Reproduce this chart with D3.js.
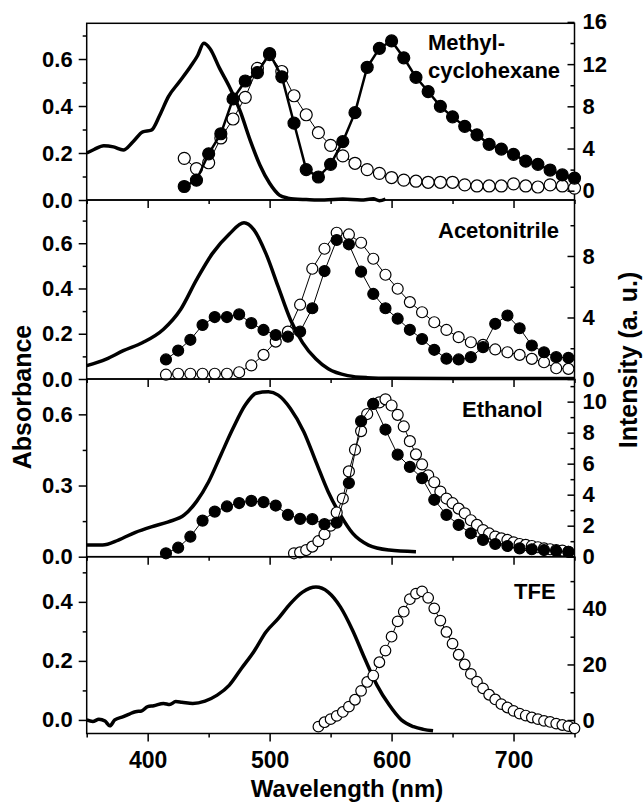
<!DOCTYPE html>
<html>
<head>
<meta charset="utf-8">
<script src="https://cdn.jsdelivr.net/npm/d3@7"></script>
<style>
    body{margin:0;background:#fff;}
    svg{display:block;font-family:"Liberation Sans",Arial,sans-serif;font-weight:bold;}
    .axis text{font-size:22px;font-weight:bold;fill:#000;font-family:"Liberation Sans",Arial,sans-serif;}
    .axis-x text{font-size:23px;}
    .axis line{stroke:#000;stroke-width:1.5;}
    .axis path{display:none;}
    .frame{fill:none;stroke:#000;stroke-width:1.5;}
    .label{font-size:22px;font-weight:bold;fill:#000;}
    .title{font-size:25px;font-weight:bold;fill:#000;}
</style>
</head>
<body>
<svg id="chart" width="643" height="803"></svg>
<script>
//--------DATA--------

//shared wavelength axis
const wlDomain = [350, 750];
const wlTicks = [400, 500, 600, 700];
const wlMinor = [350, 450, 550, 650, 750];

//methylcyclohexane
const mchAbsWl  = [350,356,364,372,380,388,396,403,410,417,426,435,441,446,451,459,467,476,484,492,500,508,515,520,530,545,560,575,585,590,595];
const mchAbsVal = [0.20,0.215,0.231,0.226,0.213,0.248,0.29,0.297,0.362,0.44,0.503,0.567,0.615,0.667,0.645,0.56,0.482,0.376,0.255,0.149,0.071,0.021,0.008,0.004,0.002,0.0,0.004,0.0,0.005,-0.003,0.004];
const mchEmWl   = [430,440,450,460,470,480,490,500,510,520,530,540,550,560,570,580,590,600,610,620,630,640,650,660,670,680,690,700,710,720,730,740,750];
const mchFilled = [0.4,1.0,3.5,5.4,8.7,10.4,11.2,13.0,10.8,6.4,2.0,1.3,2.5,4.65,7.4,11.7,13.5,14.2,12.6,10.75,9.4,8.0,7.0,6.1,5.3,4.4,3.95,3.45,2.8,2.5,1.96,1.5,1.2];
const mchOpen   = [3.07,2.1,2.65,5.0,6.8,8.85,11.6,12.9,11.3,9.0,7.2,5.5,4.3,3.3,2.6,2.0,1.65,1.25,1.0,0.9,0.8,0.8,0.8,0.55,0.45,0.45,0.45,0.65,0.45,0.35,0.55,0.45,0.25];
const mchAbsTicks = [0, 0.2, 0.4, 0.6];
const mchAbsMinor = [0.1, 0.3, 0.5, 0.7];
const mchEmTicks  = [0, 4, 8, 12, 16];
const mchEmMinor  = [2, 6, 10, 14];

//acetonitrile
const acnAbsWl  = [350,366,380,396,413,427,440,453,467,479,487,497,507,517,527,538,548,564,580,600,650,700,750];
const acnAbsVal = [0.059,0.088,0.125,0.161,0.22,0.307,0.438,0.554,0.641,0.69,0.66,0.554,0.408,0.263,0.161,0.088,0.045,0.015,0.006,0.003,0.002,0.002,0.002];
const acnEmWl   = [415,425,435,445,455,465,475,485,495,505,515,525,535,545,555,565,575,585,595,605,615,625,635,645,655,665,675,685,695,705,715,725,735,745];
const acnFilled = [1.27,1.85,2.55,3.51,4.03,4.03,4.2,3.63,3.19,2.86,2.75,3.08,4.6,7.02,9.04,8.76,6.98,5.53,4.6,3.92,3.2,2.6,1.9,1.32,1.27,1.42,2.07,3.59,4.13,3.3,2.18,1.74,1.42,1.38];
const acnOpen   = [0.28,0.34,0.34,0.34,0.34,0.34,0.44,0.88,1.57,2.43,3.08,4.83,7.17,8.47,9.51,9.4,8.86,7.82,6.78,5.87,5.0,4.34,3.69,3.19,2.72,2.39,2.22,1.92,1.74,1.57,1.31,1.09,0.7,0.66];
const acnAbsTicks = [0, 0.2, 0.4, 0.6];
const acnAbsMinor = [0.1, 0.3, 0.5, 0.7];
const acnEmTicks  = [0, 4, 8];
const acnEmMinor  = [2, 6, 10];

//ethanol
const etoAbsWl  = [350,363,376,390,403,417,430,440,450,460,470,480,489,499,507,517,528,538,548,558,568,581,598,620];
const etoAbsVal = [0.049,0.049,0.07,0.103,0.126,0.147,0.176,0.232,0.316,0.429,0.541,0.639,0.689,0.695,0.681,0.625,0.527,0.4,0.274,0.176,0.099,0.049,0.028,0.021];
const etoEmWl   = [415,425,435,445,455,465,475,485,495,505,515,525,535,545,555,565,575,585,595,605,615,625,635,645,655,665,675,685,695,705,715,725,735,745];
const etoFilled = [0.22,0.58,1.29,2.33,2.91,3.24,3.46,3.6,3.52,3.3,2.7,2.44,2.42,2.1,2.2,4.75,8.74,9.86,8.2,6.58,5.79,5.07,3.67,2.7,2.05,1.51,1.08,0.82,0.69,0.54,0.48,0.43,0.37,0.32];
const etoOpenWl = [520,525,530,535,540,545,550,555,560,565,570,575,580,585,590,595,600,605,610,615,620,625,630,635,640,645,650,655,660,665,670,675,680,685,690,695,700,705,710,715,720,725,730,735,740,745];
const etoOpen   = [0.22,0.28,0.43,0.65,1.0,1.45,2.0,2.85,3.75,5.5,6.9,8.1,9.2,9.85,9.95,10.15,9.75,9.15,8.4,7.45,6.6,5.95,5.25,4.8,4.2,3.75,3.45,3.1,2.8,2.35,2.05,1.72,1.5,1.3,1.18,1.08,0.93,0.82,0.76,0.69,0.61,0.54,0.48,0.43,0.39,0.32];
const etoAbsTicks = [0, 0.3, 0.6];
const etoAbsMinor = [0.15, 0.45];
const etoEmTicks  = [0, 2, 4, 6, 8, 10];
const etoEmMinor  = [1, 3, 5, 7, 9, 11];

//TFE
const tfeAbsWl  = [350,355,360,365,369,373,380,385,390,395,400,405,413,418,423,428,437,447,457,467,477,487,497,507,517,527,538,548,558,568,578,588,598,608,618,626,634];
const tfeAbsVal = [0.0,-0.005,0.002,-0.004,-0.02,0.0,0.011,0.02,0.028,0.03,0.045,0.048,0.056,0.052,0.062,0.06,0.056,0.064,0.084,0.118,0.175,0.231,0.298,0.343,0.394,0.433,0.45,0.433,0.383,0.304,0.208,0.118,0.051,0.0,-0.023,-0.032,-0.037];
const tfeOpenWl = [540,545,550,555,560,565,570,575,580,585,590,595,600,605,610,615,620,625,630,635,640,645,650,655,660,665,670,675,680,685,690,695,700,705,710,715,720,725,730,735,740,745,750];
const tfeOpen   = [-2.4,-0.8,0.3,1.5,2.9,4.8,7.3,10.5,13.7,16.0,20.8,25.0,30.0,35.5,39.0,43.5,45.5,46.3,44.0,40.2,35.8,31.7,27.5,23.5,20.0,16.6,13.8,11.4,9.1,7.4,5.7,4.5,3.3,2.3,1.6,0.9,0.3,-0.3,-0.7,-1.3,-1.8,-2.2,-3.0];
const tfeAbsTicks = [0, 0.2, 0.4];
const tfeAbsMinor = [0.1, 0.3, 0.5];
const tfeEmTicks  = [0, 20, 40];
const tfeEmMinor  = [10, 30, 50];

const zip = (xs, ys) => xs.map((x, i) => ({wl: x, v: ys[i]}));

//--------PANEL CLASS--------

class spectrumPanel{
    constructor(){
        this.radius = 5.5;
        this.emWidth = 1;
    }

    setSelection(selection){
        this.selection = selection;
        return this;
    }

    setBox(box){
        this.box = box; //{l, r, t, b}
        return this;
    }

    setAbs(domain, ticks, minor, data){
        this.absDomain = domain;
        this.absTicks = ticks;
        this.absMinor = minor;
        this.absData = data;
        return this;
    }

    setEm(domain, ticks, minor){
        this.emDomain = domain;
        this.emTicks = ticks;
        this.emMinor = minor;
        return this;
    }

    setSeries(open, filled){
        this.open = open;
        this.filled = filled;
        return this;
    }

    setStyle(radius, emWidth){
        this.radius = radius;
        this.emWidth = emWidth;
        return this;
    }

    setLabel(lines, x, y){
        this.labelLines = lines;
        this.labelX = x;
        this.labelY = y;
        return this;
    }

    setBottomLabels(show){
        this.bottomLabels = show;
        return this;
    }

    draw(){
        let b = this.box;
        this.scaleX = d3.scaleLinear().domain(wlDomain).range([b.l, b.r]);
        this.scaleA = d3.scaleLinear().domain(this.absDomain).range([b.b, b.t]);
        this.scaleE = d3.scaleLinear().domain(this.emDomain).range([b.b, b.t]);

        this.selection.append('rect')
            .attr('class', 'frame')
            .attr('x', b.l)
            .attr('y', b.t)
            .attr('width', b.r - b.l)
            .attr('height', b.b - b.t);

        //absorbance curve
        let absLine = d3.line()
            .x(d => this.scaleX(d.wl))
            .y(d => this.scaleA(d.v))
            .curve(d3.curveMonotoneX);

        this.selection.append('path')
            .datum(this.absData)
            .attr('d', absLine)
            .attr('fill', 'none')
            .attr('stroke', '#000')
            .attr('stroke-width', 3.5)
            .attr('stroke-linejoin', 'round');

        if(this.open) this.drawSeries(this.open, 'white', 1);
        if(this.filled) this.drawSeries(this.filled, 'black', this.emWidth);

        this.drawAxes();
        this.drawLabel();
    }

    drawSeries(data, fill, width){
        let line = d3.line()
            .x(d => this.scaleX(d.wl))
            .y(d => this.scaleE(d.v));

        this.selection.append('path')
            .datum(data)
            .attr('d', line)
            .attr('fill', 'none')
            .attr('stroke', '#000')
            .attr('stroke-width', width);

        this.selection.append('g')
            .selectAll('circle')
            .data(data)
            .join('circle')
            .attr('cx', d => this.scaleX(d.wl))
            .attr('cy', d => this.scaleE(d.v))
            .attr('r', this.radius)
            .attr('fill', fill)
            .attr('stroke', '#000')
            .attr('stroke-width', 1.2);
    }

    drawAxes(){
        let b = this.box;
        let g = this.selection;
        let fmt = d3.format('.1f');

        //left (absorbance), ticks pointing out
        g.append('g').attr('class', 'axis')
            .attr('transform', `translate(${b.l},0)`)
            .call(d3.axisLeft(this.scaleA).tickValues(this.absTicks).tickSize(8).tickPadding(6).tickFormat(fmt));
        g.append('g').attr('class', 'axis')
            .attr('transform', `translate(${b.l},0)`)
            .call(d3.axisLeft(this.scaleA).tickValues(this.absMinor).tickSize(4).tickFormat(''));

        //right (intensity), ticks pointing in
        g.append('g').attr('class', 'axis')
            .attr('transform', `translate(${b.r},0)`)
            .call(d3.axisRight(this.scaleE).tickValues(this.emTicks).tickSizeInner(-7).tickSizeOuter(0).tickPadding(8).tickFormat(d3.format('d')));
        g.append('g').attr('class', 'axis')
            .attr('transform', `translate(${b.r},0)`)
            .call(d3.axisRight(this.scaleE).tickValues(this.emMinor).tickSizeInner(-4).tickSizeOuter(0).tickFormat(''));

        //bottom (wavelength), ticks pointing out
        g.append('g').attr('class', 'axis axis-x')
            .attr('transform', `translate(0,${b.b})`)
            .call(d3.axisBottom(this.scaleX).tickValues(wlTicks).tickSize(8).tickPadding(10)
                .tickFormat(this.bottomLabels ? d3.format('d') : ''));
        g.append('g').attr('class', 'axis axis-x')
            .attr('transform', `translate(0,${b.b})`)
            .call(d3.axisBottom(this.scaleX).tickValues(wlMinor).tickSize(4).tickFormat(''));
    }

    drawLabel(){
        this.selection.append('g')
            .selectAll('text')
            .data(this.labelLines)
            .join('text')
            .attr('class', 'label')
            .attr('x', this.labelX)
            .attr('y', (d, i) => this.labelY + i * 28)
            .text(d => d);
    }
}

//--------LAYOUT--------

const svg = d3.select('#chart');
const plotL = 86.7, plotR = 574.5;

new spectrumPanel()
    .setSelection(svg.append('g'))
    .setBox({l: plotL, r: plotR, t: 23.3, b: 200})
    .setAbs([0, 0.752], mchAbsTicks, mchAbsMinor, zip(mchAbsWl, mchAbsVal))
    .setEm([-0.88, 15.87], mchEmTicks, mchEmMinor)
    .setSeries(zip(mchEmWl, mchOpen), zip(mchEmWl, mchFilled))
    .setStyle(6, 2.5)
    .setLabel(['Methyl-', 'cyclohexane'], 428, 50)
    .draw();

new spectrumPanel()
    .setSelection(svg.append('g'))
    .setBox({l: plotL, r: plotR, t: 200, b: 379})
    .setAbs([0, 0.791], acnAbsTicks, acnAbsMinor, zip(acnAbsWl, acnAbsVal))
    .setEm([0, 11.64], acnEmTicks, acnEmMinor)
    .setSeries(zip(acnEmWl, acnOpen), zip(acnEmWl, acnFilled))
    .setStyle(5.5, 1)
    .setLabel(['Acetonitrile'], 438, 238)
    .draw();

new spectrumPanel()
    .setSelection(svg.append('g'))
    .setBox({l: plotL, r: plotR, t: 379, b: 556.7})
    .setAbs([0, 0.749], etoAbsTicks, etoAbsMinor, zip(etoAbsWl, etoAbsVal))
    .setEm([0, 11.46], etoEmTicks, etoEmMinor)
    .setSeries(zip(etoOpenWl, etoOpen), zip(etoEmWl, etoFilled))
    .setStyle(5.5, 1)
    .setLabel(['Ethanol'], 462, 417)
    .draw();

new spectrumPanel()
    .setSelection(svg.append('g'))
    .setBox({l: plotL, r: plotR, t: 556.7, b: 733.5})
    .setAbs([-0.046, 0.553], tfeAbsTicks, tfeAbsMinor, zip(tfeAbsWl, tfeAbsVal))
    .setEm([-4.86, 58.8], tfeEmTicks, tfeEmMinor)
    .setSeries(zip(tfeOpenWl, tfeOpen), null)
    .setStyle(5.3, 1)
    .setLabel(['TFE'], 514, 599)
    .setBottomLabels(true)
    .draw();

//axis titles
svg.append('text')
    .attr('class', 'title')
    .attr('text-anchor', 'middle')
    .attr('transform', 'translate(31,397) rotate(-90)')
    .text('Absorbance');

svg.append('text')
    .attr('class', 'title')
    .attr('text-anchor', 'middle')
    .attr('transform', 'translate(637,360) rotate(-90)')
    .text('Intensity (a. u.)');

svg.append('text')
    .attr('class', 'title')
    .attr('text-anchor', 'middle')
    .attr('x', 347)
    .attr('y', 797)
    .style('font-size', '24px')
    .text('Wavelength (nm)');
</script>
</body>
</html>
